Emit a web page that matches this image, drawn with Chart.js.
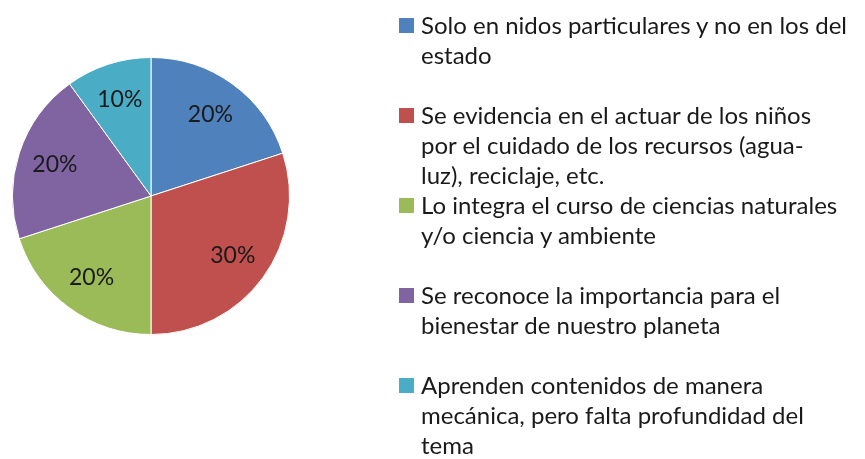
<!DOCTYPE html>
<html lang="es">
<head>
    <meta charset="UTF-8">
    <title>Pie chart</title>
    <script src="https://cdn.jsdelivr.net/npm/chart.js"></script>
    <style>
        html, body { margin: 0; padding: 0; background: #fff; }
        .wrap { position: relative; width: 865px; height: 459px; overflow: hidden; }
        #pieChart { position: absolute; left: 0; top: 0; }
        .legend { position: absolute; left: 399px; top: 10px; font-family: Lato, sans-serif; font-size: 24px; color: #1a1a1a; }
        .legend-item { position: absolute; left: 0; width: 470px; height: 90px; }
        .legend-box { position: absolute; left: 0; top: 8px; width: 15px; height: 15px; }
        .legend-text { position: absolute; left: 22px; top: 0; line-height: 30px; white-space: nowrap; }
    </style>
</head>
<body>
    <div class="wrap">
        <canvas id="pieChart" width="865" height="459"></canvas>
        <div class="legend" id="legend"></div>
    </div>
    <script>
        // categories (each one already split in the lines shown in the legend)
        var categories = [
            ['Solo en nidos particulares y no en los del', 'estado'],
            ['Se evidencia en el actuar de los niños', 'por el cuidado de los recursos (agua-', 'luz), reciclaje, etc.'],
            ['Lo integra el curso de ciencias naturales', 'y/o ciencia y ambiente'],
            ['Se reconoce la importancia para el', 'bienestar de nuestro planeta'],
            ['Aprenden contenidos de manera', 'mecánica, pero falta profundidad del', 'tema']
        ];
        var values = [20, 30, 20, 20, 10];
        var colors = ['#4f81bd', '#c0504d', '#9bbb59', '#8064a2', '#4bacc6'];

        // percent labels inside the slices
        var sliceLabels = {
            id: 'sliceLabels',
            afterDatasetsDraw: function (chart) {
                var ctx = chart.ctx;
                var meta = chart.getDatasetMeta(0);
                var total = values.reduce(function (a, b) { return a + b; }, 0);
                ctx.save();
                ctx.font = '23px Lato, sans-serif';
                ctx.fillStyle = '#1a1a1a';
                ctx.textAlign = 'center';
                ctx.textBaseline = 'middle';
                meta.data.forEach(function (arc, i) {
                    var mid = (arc.startAngle + arc.endAngle) / 2;
                    var r = arc.outerRadius * 0.73;
                    var x = arc.x + Math.cos(mid) * r;
                    var y = arc.y + Math.sin(mid) * r;
                    ctx.fillText(Math.round(values[i] / total * 100) + '%', x, y);
                });
                ctx.restore();
            }
        };

        var ctx = document.getElementById('pieChart').getContext('2d');
        var pieChart = new Chart(ctx, {
            type: 'pie',
            data: {
                labels: categories,
                datasets: [{
                    data: values,
                    backgroundColor: colors,
                    borderColor: '#ffffff',
                    borderWidth: 1
                }]
            },
            options: {
                responsive: false,
                animation: false,
                layout: {
                    padding: { left: 12, top: 57, right: 575, bottom: 124 }
                },
                plugins: {
                    legend: { display: false },
                    tooltip: { enabled: false }
                }
            },
            plugins: [sliceLabels]
        });

        // legend built from the same arrays
        var legend = document.getElementById('legend');
        categories.forEach(function (lines, i) {
            var item = document.createElement('div');
            item.className = 'legend-item';
            item.style.top = (i * 90) + 'px';
            var box = document.createElement('div');
            box.className = 'legend-box';
            box.style.background = colors[i];
            var text = document.createElement('div');
            text.className = 'legend-text';
            text.innerHTML = lines.join('<br>');
            item.appendChild(box);
            item.appendChild(text);
            legend.appendChild(item);
        });
    </script>
</body>
</html>
